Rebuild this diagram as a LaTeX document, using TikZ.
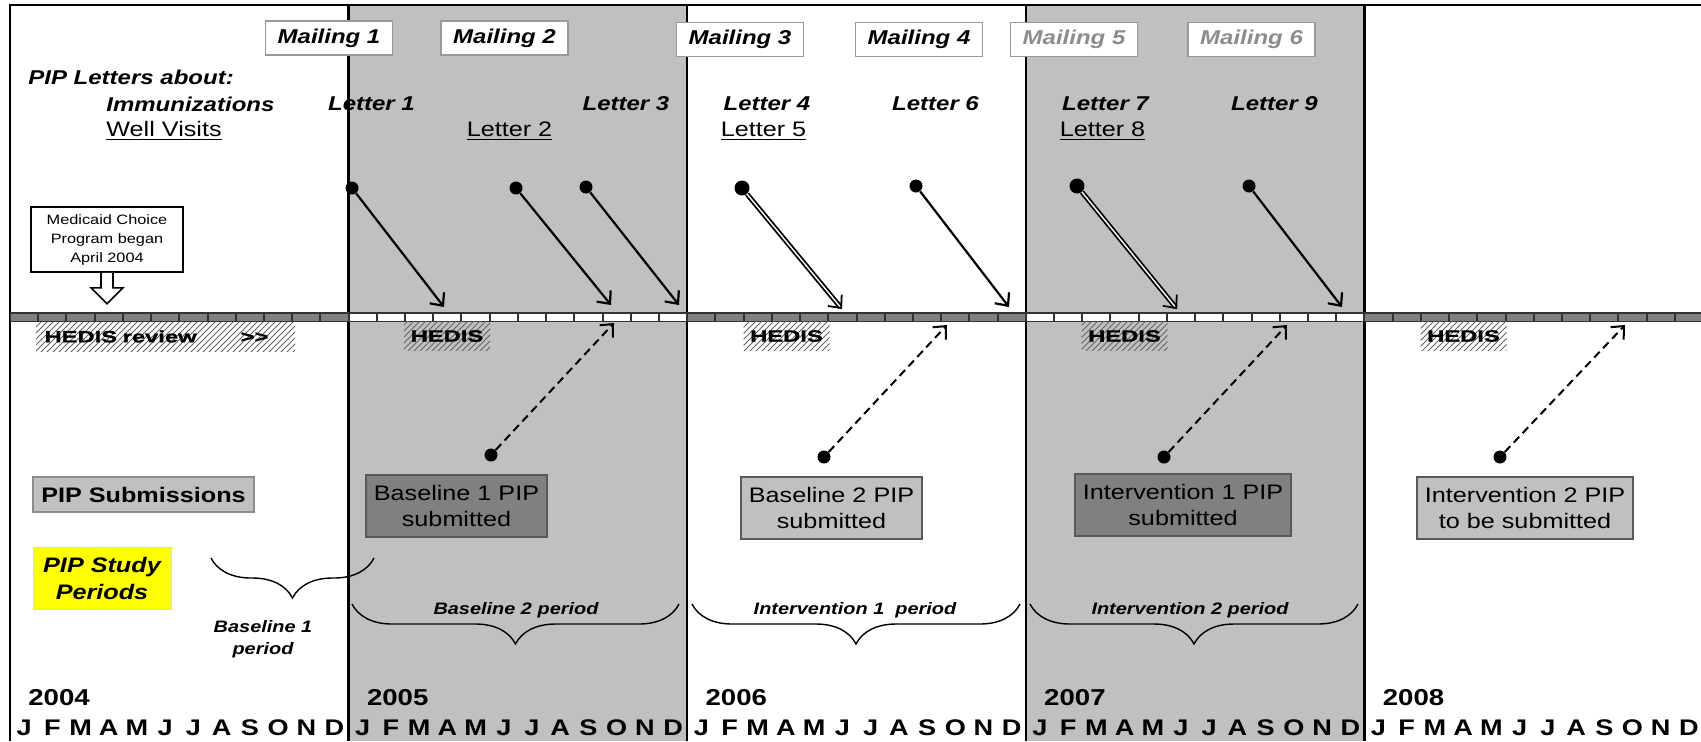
\documentclass[tikz,border=0pt]{standalone}
\usepackage{fontspec}
\setmainfont{Liberation Sans}[FakeStretch=1.2]
\newfontfamily\hedisfont{Liberation Sans}[FakeStretch=1.45,FakeBold=1.2]
\usepackage{tikz}
\usetikzlibrary{arrows.meta,positioning,patterns,decorations.pathreplacing}

\definecolor{shadegray}{HTML}{C0C0C0}
\definecolor{boxdark}{HTML}{808080}
\definecolor{pipyellow}{HTML}{FFFF00}

\begin{document}
\begin{tikzpicture}[
				x=0.5pt, y=-0.5pt,
				mailbox/.style={
					rectangle, draw=black!40, fill=white, line width=0.7pt,
					minimum width=63.5pt, minimum height=17pt, inner sep=0pt,
					font=\fontsize{10}{12}\selectfont\bfseries\itshape
				},
				mailfade/.style={mailbox, text=black!45},
				lettxt/.style={inner sep=0pt, font=\fontsize{10}{12}\selectfont\bfseries\itshape},
				letul/.style={inner sep=0pt, font=\fontsize{10.5}{12}\selectfont},
				medbox/.style={
					rectangle, draw=black, fill=white, line width=0.8pt,
					minimum width=76pt, minimum height=32.5pt, inner sep=1pt,
					align=center, font=\fontsize{6.8}{9.5}\selectfont
				},
				hedisbox/.style={
					rectangle, pattern=north east lines, pattern color=black!60,
					minimum width=43pt, minimum height=14.5pt, inner sep=0pt,
					font=\fontsize{8.2}{10}\hedisfont\bfseries
				},
				pipbox/.style={
					rectangle, draw=black!65, line width=0.7pt,
					minimum width=90.5pt, minimum height=31pt, inner sep=1pt,
					align=center, font=\fontsize{10.5}{13.3}\selectfont
				},
				pipdark/.style={pipbox, fill=boxdark},
				piplight/.style={pipbox, fill=shadegray},
				period/.style={inner sep=0pt, align=center,
					font=\fontsize{8.3}{11}\selectfont\bfseries\itshape},
				brc/.style={decorate, decoration={brace, mirror, amplitude=20pt}, line width=0.7pt},
				year/.style={anchor=west, inner sep=0pt, font=\fontsize{11.5}{13}\selectfont\bfseries},
				month/.style={inner sep=0pt, font=\fontsize{11.3}{12}\selectfont\bfseries},
				dot/.style={circle, fill=black, inner sep=0pt, minimum size=6.5pt},
				letarr/.style={-{Straight Barb[length=5pt,width=9pt]}, line width=1.1pt},
				dblarr/.style={letarr, double, double distance=0.7pt, line width=0.9pt},
				subarr/.style={-{Straight Barb[length=5pt,width=9pt]}, line width=1pt,
					dash pattern=on 4pt off 2.5pt},
				divider/.style={line width=1.2pt}
				]
				\useasboundingbox (0,0) rectangle (1701,741);
				
				%% ─── YEAR BANDS ───────────────────────────────────────────────────────
				\fill[shadegray] (348.6,5) rectangle (687.2,741);
				\fill[shadegray] (1025.8,5) rectangle (1364.4,741);
				\foreach \k in {1,...,4}
				\draw[divider] ({10+338.6*\k},5) -- ({10+338.6*\k},741);
				\draw[line width=1.2pt] (10,741) -- (10,5) -- (1701,5);
				
				%% ─── MONTH BAR ────────────────────────────────────────────────────────
				\fill[black!80] (10,312) rectangle (1701,322);
				\foreach \k/\c in {0/black!50,1/white,2/black!50,3/white,4/black!50}
				\foreach \m in {0,...,11}
				\fill[\c] ({10+338.6*\k+28.22*\m+1},313.5) rectangle ({10+338.6*\k+28.22*(\m+1)-1},320.5);
				
				%% ─── MAILINGS AND LETTERS ─────────────────────────────────────────────
				\node[mailbox] (m1) at (329,38) {Mailing 1};
				\node[mailbox] (m2) at (504.5,38) {Mailing 2};
				\node[mailbox] (m3) at (740,39.5) {Mailing 3};
				\node[mailbox] (m4) at (919,39.5) {Mailing 4};
				\node[mailfade] (m5) at (1074,39.5) {Mailing 5};
				\node[mailfade] (m6) at (1251.5,39.5) {Mailing 6};
				
				\node[lettxt, anchor=west] (about) at (28,77) {PIP Letters about:};
				\node[lettxt, anchor=west] (imm) at (106,104) {Immunizations};
				\node[letul, anchor=west] (wv) at (106,131) {\underline{Well Visits}};
				
				\node[lettxt] (l1) at (371.5,104) {Letter 1};
				\node[letul] (l2) at (509.5,131) {\underline{Letter 2}};
				\node[lettxt] (l3) at (626,104) {Letter 3};
				\node[lettxt] (l4) at (767,104) {Letter 4};
				\node[letul] (l5) at (763.5,131) {\underline{Letter 5}};
				\node[lettxt] (l6) at (935.5,104) {Letter 6};
				\node[lettxt] (l7) at (1105.5,104) {Letter 7};
				\node[letul] (l8) at (1102.5,131) {\underline{Letter 8}};
				\node[lettxt] (l9) at (1274.5,104) {Letter 9};
				
				\node[dot] (d1) at (352,188) {};
				\node[dot] (d2) at (516,188) {};
				\node[dot] (d3) at (586,187) {};
				\node[dot, minimum size=7.5pt] (d4) at (742,188) {};
				\node[dot] (d6) at (916,186) {};
				\node[dot, minimum size=7.5pt] (d7) at (1077,186) {};
				\node[dot] (d9) at (1249,186) {};
				\coordinate (t1) at (444,307);
				\coordinate (t2) at (611,305);
				\coordinate (t3) at (679,305);
				\coordinate (t4) at (842,309);
				\coordinate (t6) at (1009,307);
				\coordinate (t7) at (1177,309);
				\coordinate (t9) at (1342,307);
				\draw[letarr] (d1) -- (t1);
				\draw[letarr] (d2) -- (t2);
				\draw[letarr] (d3) -- (t3);
				\draw[dblarr] (d4) -- (t4);
				\draw[letarr] (d6) -- (t6);
				\draw[dblarr] (d7) -- (t7);
				\draw[letarr] (d9) -- (t9);
				
				%% ─── MEDICAID START ───────────────────────────────────────────────────
				\node[medbox] (med) at (107,239.5) {Medicaid Choice\\Program began\\April 2004};
				\draw[line width=0.8pt, fill=white] ([xshift=-3pt]med.south) -- ++(0,15) -- ++(-10,0)
				-- ++(16,16) -- ++(16,-16) -- ++(-10,0) -- ++(0,-15);
				
				%% ─── HEDIS REVIEWS ────────────────────────────────────────────────────
				\node[hedisbox, text width=121pt, inner xsep=4.25pt, align=left] (hrev) at (165.5,336.5)
				{HEDIS review\hspace{22pt}>{}>};
				\node[hedisbox] (h5) at (447,336) {HEDIS};
				\node[hedisbox] (h6) at (786.5,336) {HEDIS};
				\node[hedisbox] (h7) at (1124.5,336) {HEDIS};
				\node[hedisbox] (h8) at (1463.5,336) {HEDIS};
				
				%% ─── PIP SUBMISSIONS ──────────────────────────────────────────────────
				\node[piplight, draw=black!45, minimum width=110.5pt, minimum height=17.5pt,
				font=\fontsize{10.5}{13}\selectfont\bfseries] (subm) at (143.5,494.5) {PIP Submissions};
				\node[pipdark] (b1) at (456.5,506) {Baseline 1 PIP\\submitted};
				\node[piplight] (b2) at (831.5,508) {Baseline 2 PIP\\submitted};
				\node[pipdark, minimum width=108pt] (i1) at (1183,505) {Intervention 1 PIP\\submitted};
				\node[piplight, minimum width=108pt] (i2) at (1525,508) {Intervention 2 PIP\\to be submitted};
				
				\node[dot] (s1) at (491,455) {};
				\node[dot] (s2) at (824,457) {};
				\node[dot] (s3) at (1164,457) {};
				\node[dot] (s4) at (1500,457) {};
				\coordinate (u1) at (614,323);
				\coordinate (u2) at (947,325);
				\coordinate (u3) at (1287,325);
				\coordinate (u4) at (1625,325);
				\draw[subarr] (s1) -- (u1);
				\draw[subarr] (s2) -- (u2);
				\draw[subarr] (s3) -- (u3);
				\draw[subarr] (s4) -- (u4);
				
				%% ─── STUDY PERIODS ────────────────────────────────────────────────────
				\node[rectangle, fill=pipyellow, draw=black!15, minimum width=69pt, minimum height=31pt,
				align=center, font=\fontsize{10.5}{13.5}\selectfont\bfseries\itshape] (study) at (102,578)
				{PIP Study\\Periods};
				
				\coordinate (p1a) at (211,558);
				\coordinate (p1b) at (374,558);
				\coordinate (p2a) at (352,604);
				\coordinate (p2b) at (679,604);
				\coordinate (p3a) at (692,604);
				\coordinate (p3b) at (1020,604);
				\coordinate (p4a) at (1030,604);
				\coordinate (p4b) at (1358,604);
				\draw[brc] (p1a) -- (p1b);
				\draw[brc] (p2a) -- (p2b);
				\draw[brc] (p3a) -- (p3b);
				\draw[brc] (p4a) -- (p4b);
				\node[period] (p1) at (263,639) {Baseline 1\\period};
				\node[period] (p2) at (516,610) {Baseline 2 period};
				\node[period] (p3) at (855,610) {Intervention 1~ period};
				\node[period] (p4) at (1190,610) {Intervention 2 period};
				
				%% ─── YEARS AND MONTHS ─────────────────────────────────────────────────
				\foreach \yr [count=\k from 0] in {2004,...,2008}
				\node[year] (y\yr) at ({28+338.6*\k},698) {\yr};
				\foreach \k in {0,...,4}
				\foreach \mo [count=\m from 0] in {J,F,M,A,M,J,J,A,S,O,N,D}
				\node[month] (mo-\k-\m) at ({10+338.6*\k+28.22*(\m+0.5)},728) {\mo};
				
\end{tikzpicture}
\end{document}
